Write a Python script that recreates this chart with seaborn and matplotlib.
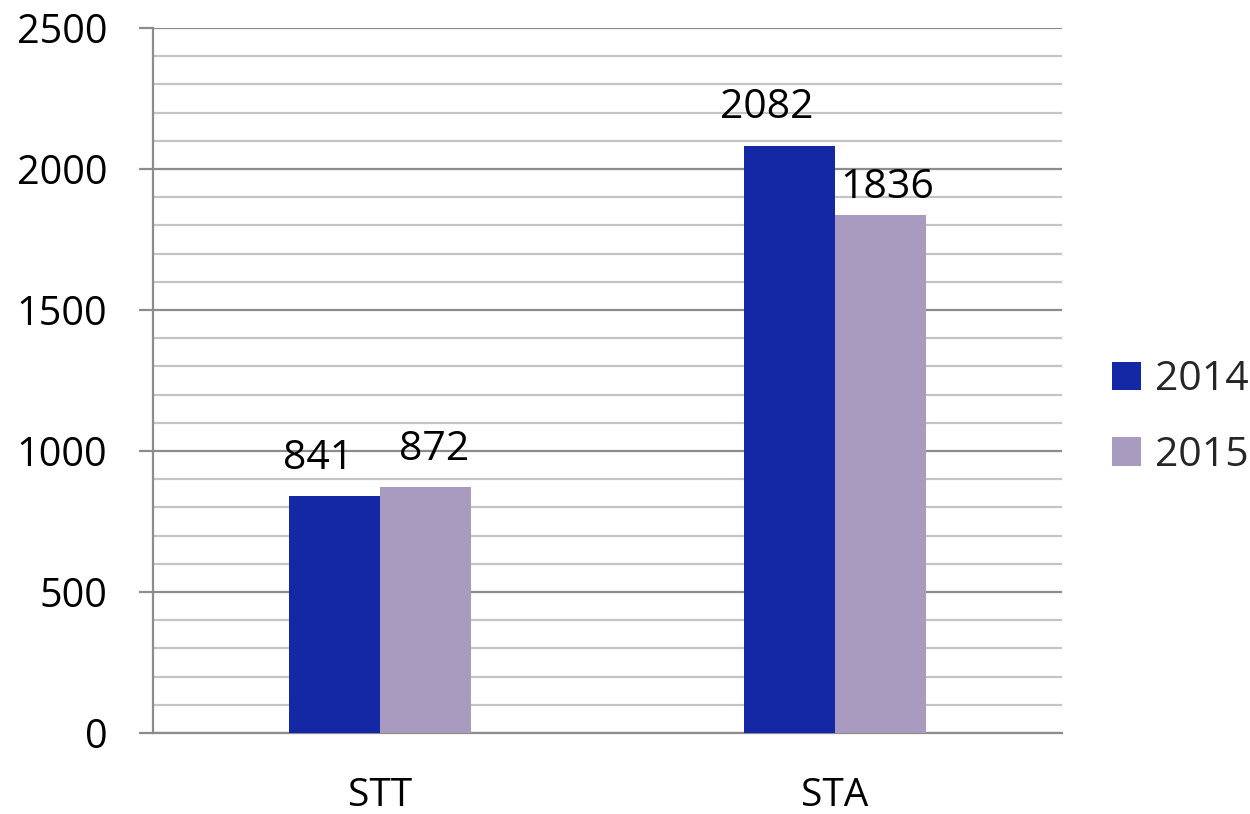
import matplotlib
matplotlib.use("Agg")
import matplotlib.pyplot as plt
from matplotlib.ticker import MultipleLocator
import seaborn as sns
import pandas as pd

categories = ["STT", "STA"]
years = ["2014", "2015"]
values_2014 = [841, 2082]
values_2015 = [872, 1836]

df = pd.DataFrame({
    "cat": categories * 2,
    "year": [years[0]] * 2 + [years[1]] * 2,
    "value": values_2014 + values_2015,
})

sns.set_theme(style="white")
plt.rcParams["font.family"] = ["Open Sans", "DejaVu Sans"]

fig = plt.figure(figsize=(12.5, 8.14), dpi=100)
ax = fig.add_axes([0.1224, 0.0995, 0.7272, 0.8661])

palette = {"2014": "#1428A6", "2015": "#A99BBF"}
sns.barplot(data=df, x="cat", y="value", hue="year", palette=palette,
            width=0.4, gap=0, saturation=1, ax=ax, zorder=3, linewidth=0)

ax.set_xlim(-0.5, 1.5)
ax.set_ylim(0, 2500)
ax.yaxis.set_major_locator(MultipleLocator(500))
ax.yaxis.set_minor_locator(MultipleLocator(100))
ax.grid(axis="y", which="major", color="#8c8c8c", linewidth=1.6, zorder=1)
ax.grid(axis="y", which="minor", color="#c4c4c4", linewidth=1.6, zorder=1)
ax.set_axisbelow(True)

for s in ["top", "right"]:
    ax.spines[s].set_visible(False)
for s in ["left", "bottom"]:
    ax.spines[s].set_color("#8c8c8c")
    ax.spines[s].set_linewidth(1.6)

ax.tick_params(axis="y", which="major", length=10, width=1.6, color="#8c8c8c",
               direction="out", left=True, pad=23, labelsize=28.5, labelcolor="black")
ax.tick_params(axis="y", which="minor", length=0)
ax.tick_params(axis="x", length=0, pad=32, labelsize=28, labelcolor="black")
ax.set_xlabel("")
ax.set_ylabel("")

# data labels
offsets = {(0, 0): (-12, 12), (0, 1): (6, 12), (1, 0): (-16, 13), (1, 1): (5, 5)}
for hi, cont in enumerate(ax.containers):
    for ci, bar in enumerate(cont):
        h = bar.get_height()
        dx, dy = offsets[(ci, hi)]
        ax.annotate(f"{int(round(h))}", (bar.get_x() + bar.get_width() / 2, h),
                    xytext=(dx, dy), textcoords="offset points",
                    ha="center", va="bottom", fontsize=29.5, color="black", zorder=5)

leg = ax.legend(loc="center left", bbox_to_anchor=(1.037, 0.447), frameon=False,
                fontsize=29.5, handlelength=0.7, handleheight=0.7,
                handletextpad=0.35, labelspacing=0.85, borderaxespad=0)

fig.savefig("out.png", dpi=100, facecolor="white")
